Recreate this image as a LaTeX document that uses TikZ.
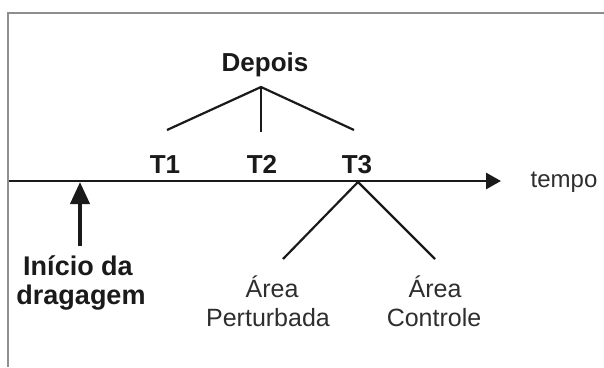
\documentclass[tikz,border=0pt]{standalone}
\usepackage{fontspec}
\setmainfont{Liberation Sans}
\usetikzlibrary{arrows.meta}
\definecolor{framegrey}{HTML}{8E8E8E}
\definecolor{ink}{HTML}{1A1A1A}
\definecolor{softink}{HTML}{2E2E2E}
\begin{document}
\begin{tikzpicture}[x=1pt,y=-1pt,
  boldlbl/.style={inner sep=0pt,anchor=base,text=ink,font=\fontsize{26}{30}\selectfont\bfseries},
  startlbl/.style={inner sep=0pt,anchor=base,text=ink,font=\fontsize{27}{30}\selectfont\bfseries},
  plainlbl/.style={inner sep=0pt,anchor=base,text=softink,font=\fontsize{25}{28}\selectfont},
  branch/.style={draw=ink,line width=2.2pt},
  axisline/.style={draw=ink,line width=2.8pt,-{Triangle[length=15pt,width=16pt]}},
  uparrow/.style={draw=ink,line width=4pt,-{Triangle[length=22pt,width=19pt]}}]
\useasboundingbox (0,0) rectangle (604,367);
\fill[white] (0,0) rectangle (604,367);
% frame
\draw[framegrey,line width=2pt] (8,367) -- (8,13) -- (604,13);
% axis
\coordinate (axstart) at (9,181);
\coordinate (axend) at (501,181);
\draw[axisline] (axstart) -- (axend);
\node[plainlbl,font=\fontsize{24}{28}\selectfont] (tempo) at (564,187) {tempo};
% T labels
\node[boldlbl] (t1) at (165,173) {T1};
\node[boldlbl] (t2) at (262,173) {T2};
\node[boldlbl] (t3) at (357,173) {T3};
% Depois
\node[boldlbl] (dep) at (265,71) {Depois};
\coordinate (apex) at (261,87);
\coordinate (e1) at (167,130);
\coordinate (e2) at (261,132);
\coordinate (e3) at (354,130);
\draw[branch] (e1) -- (apex) -- (e3);
\draw[branch] (apex) -- (e2);
% T3 branches
\coordinate (t3apex) at (358,182);
\coordinate (leftend) at (283,259);
\coordinate (rightend) at (435,259);
\draw[branch] (leftend) -- (t3apex) -- (rightend);
% start arrow
\coordinate (arrbase) at (80,246);
\coordinate (arrtip) at (80,182);
\draw[uparrow] (arrbase) -- (arrtip);
\node[startlbl] (ini1) at (78,275) {Início da};
\node[startlbl] (ini2) at (81,304) {dragagem};
% area labels
\node[plainlbl] (a1) at (272,297) {Área};
\node[plainlbl] (p1) at (268,326) {Perturbada};
\node[plainlbl] (a2) at (435,297) {Área};
\node[plainlbl] (c2) at (434,326) {Controle};
\end{tikzpicture}
\end{document}
